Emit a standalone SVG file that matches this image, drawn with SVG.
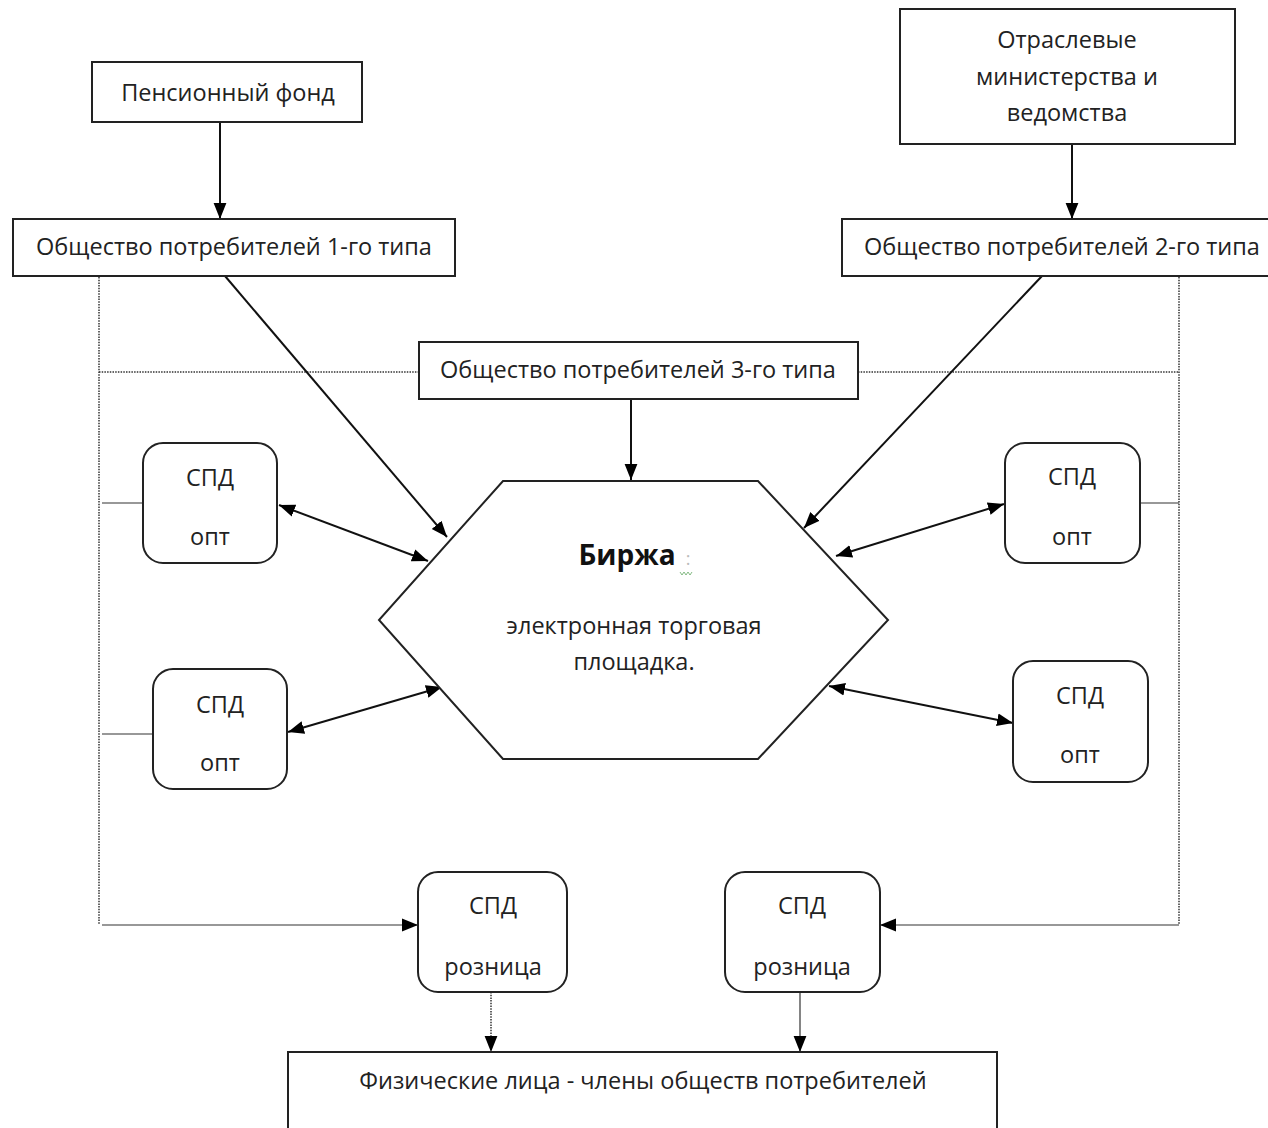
<svg xmlns="http://www.w3.org/2000/svg" width="1268" height="1128" viewBox="0 0 1268 1128">
<style>
text{font-family:"Open Sans","Noto Sans","DejaVu Sans",sans-serif;font-size:23.5px;fill:#222;text-anchor:middle}
.box{fill:#fff;stroke:#222;stroke-width:2}
.rbox{fill:#fff;stroke:#222;stroke-width:2}
.ln{fill:none;stroke:#111;stroke-width:2}
.thin{fill:none;stroke:#333;stroke-width:1.2}
.dot{fill:none;stroke:#333;stroke-width:1.5;stroke-dasharray:1.5 1.2}
</style>
<defs>
<marker id="ahL" viewBox="0 0 10 10" refX="10" refY="5" markerWidth="16" markerHeight="16" markerUnits="userSpaceOnUse" orient="auto-start-reverse"><path d="M0,1 L10,5 L0,9 z" fill="#000"/></marker>
</defs>
<rect width="1268" height="1128" fill="#fff"/>
<g id="connectors">
<path class="dot" d="M99,277 V925"/>
<path class="dot" d="M99,372 H419"/>
<path class="dot" d="M858,372 H1179"/>
<path class="dot" d="M1179,277 V925"/>
<path class="thin" d="M102,503 H143"/>
<path class="thin" d="M102,734 H153"/>
<path class="thin" d="M1140,503 H1179"/>
<path class="thin" d="M102,925 H418" marker-end="url(#ahL)"/>
<path class="thin" d="M1179,925 H880" marker-end="url(#ahL)"/>
<path class="ln" d="M220,122 V219" marker-end="url(#ahL)"/>
<path class="ln" d="M1072,144 V219" marker-end="url(#ahL)"/>
<path class="ln" d="M631,399 V480" marker-end="url(#ahL)"/>
<path class="ln" d="M225,276 L447,537" marker-end="url(#ahL)"/>
<path class="ln" d="M1042,276 L804,528" marker-end="url(#ahL)"/>
<path class="ln" d="M279,505 L428,561" marker-start="url(#ahL)" marker-end="url(#ahL)"/>
<path class="ln" d="M288,732 L442,687" marker-start="url(#ahL)" marker-end="url(#ahL)"/>
<path class="ln" d="M1004,504 L836,556" marker-start="url(#ahL)" marker-end="url(#ahL)"/>
<path class="ln" d="M829,686 L1013,723" marker-start="url(#ahL)" marker-end="url(#ahL)"/>
<path class="dot" d="M491,992 V1052" marker-end="url(#ahL)"/>
<path class="thin" d="M800,992 V1052" marker-end="url(#ahL)"/>
</g>
<g id="pension">
<rect class="box" x="92" y="62" width="270" height="60"/>
<text x="228" y="101">Пенсионный фонд</text>
</g>
<g id="ministries">
<rect class="box" x="900" y="9" width="335" height="135"/>
<text x="1067" y="48">Отраслевые</text>
<text x="1067" y="85">министерства и</text>
<text x="1067" y="121">ведомства</text>
</g>
<g id="society1">
<rect class="box" x="13" y="219" width="442" height="57"/>
<text x="234" y="255">Общество потребителей 1-го типа</text>
</g>
<g id="society2">
<rect class="box" x="842" y="219" width="430" height="57"/>
<text x="1062" y="255">Общество потребителей 2-го типа</text>
</g>
<g id="society3">
<rect class="box" x="419" y="342" width="439" height="57"/>
<text x="638" y="378">Общество потребителей 3-го типа</text>
</g>
<g id="exchange">
<polygon class="box" points="503,481 758,481 888,620 758,759 503,759 379,620"/>
<text x="627" y="565" style="font-weight:bold;font-size:28px;fill:#111">Биржа</text>
<text x="688" y="565" style="font-size:18px;fill:#bbb">:</text>
<path d="M680,572 l2,3 l2,-3 l2,3 l2,-3 l2,3 l2,-3" fill="none" stroke="#6a6" stroke-width="0.8"/>
<text x="634" y="634">электронная торговая</text>
<text x="634" y="670">площадка.</text>
</g>
<g id="spd-opt-1">
<rect class="rbox" x="143" y="443" width="134" height="120" rx="20"/>
<text x="210" y="486">СПД</text>
<text x="210" y="545">опт</text>
</g>
<g id="spd-opt-2">
<rect class="rbox" x="153" y="669" width="134" height="120" rx="20"/>
<text x="220" y="713">СПД</text>
<text x="220" y="771">опт</text>
</g>
<g id="spd-opt-3">
<rect class="rbox" x="1005" y="443" width="135" height="120" rx="20"/>
<text x="1072" y="485">СПД</text>
<text x="1072" y="545">опт</text>
</g>
<g id="spd-opt-4">
<rect class="rbox" x="1013" y="661" width="135" height="121" rx="20"/>
<text x="1080" y="704">СПД</text>
<text x="1080" y="763">опт</text>
</g>
<g id="spd-retail-1">
<rect class="rbox" x="418" y="872" width="149" height="120" rx="20"/>
<text x="493" y="914">СПД</text>
<text x="493" y="975">розница</text>
</g>
<g id="spd-retail-2">
<rect class="rbox" x="725" y="872" width="155" height="120" rx="20"/>
<text x="802" y="914">СПД</text>
<text x="802" y="975">розница</text>
</g>
<g id="individuals">
<rect class="box" x="288" y="1052" width="709" height="90"/>
<text x="643" y="1089">Физические лица - члены обществ потребителей</text>
</g>
</svg>
